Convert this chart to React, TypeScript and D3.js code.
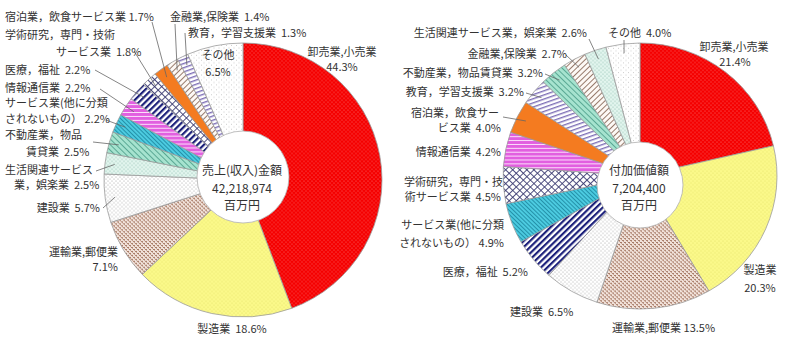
import React from "react";
import * as d3 from "d3";

const leftCategories = [
  "卸売業,小売業", "製造業", "運輸業,郵便業", "建設業", "生活関連サービス業，娯楽業",
  "不動産業，物品賃貸業", "サービス業(他に分類されないもの）", "情報通信業", "医療，福祉",
  "学術研究，専門・技術サービス業", "宿泊業，飲食サービス業", "金融業,保険業", "教育，学習支援業", "その他",
];
const leftValues = [44.3, 18.6, 7.1, 5.7, 2.5, 2.5, 2.2, 2.2, 2.2, 1.8, 1.7, 1.4, 1.3, 6.5];

const rightCategories = [
  "卸売業,小売業", "製造業", "運輸業,郵便業", "建設業", "医療，福祉",
  "サービス業(他に分類されないもの）", "学術研究，専門・技術サービス業", "情報通信業",
  "宿泊業，飲食サービス業", "教育，学習支援業", "不動産業，物品賃貸業", "金融業,保険業",
  "生活関連サービス業，娯楽業", "その他",
];
const rightValues = [21.4, 20.3, 13.5, 6.5, 5.2, 4.9, 4.5, 4.2, 4.0, 3.2, 3.2, 2.7, 2.6, 4.0];

const leftCenterText = ["売上(収入)金額", "42,218,974", "百万円"];
const rightCenterText = ["付加価値額", "7,204,400", "百万円"];

// fill pattern id per category
const fillOf: Record<string, string> = {
  "卸売業,小売業": "url(#pRed)",
  "製造業": "url(#pYellow)",
  "運輸業,郵便業": "url(#pBrown)",
  "建設業": "url(#pSparse)",
  "生活関連サービス業，娯楽業": "url(#pMint)",
  "不動産業，物品賃貸業": "url(#pTeal)",
  "サービス業(他に分類されないもの）": "url(#pCyan)",
  "情報通信業": "url(#pMagenta)",
  "医療，福祉": "url(#pNavy)",
  "学術研究，専門・技術サービス業": "url(#pGrid)",
  "宿泊業，飲食サービス業": "#f47b20",
  "金融業,保険業": "url(#pHatch)",
  "教育，学習支援業": "url(#pLav)",
  "その他": "url(#pSparse2)",
};

type Line = { t: string; x: number; y: number; a: "start" | "middle" | "end" };
type Lab = { lines: Line[]; lead?: [number, number] };

const leftLabels: Record<string, Lab> = {
  "卸売業,小売業": { lines: [{ t: "卸売業,小売業", x: 342, y: 56, a: "middle" }, { t: "{v}", x: 342, y: 71, a: "middle" }] },
  "製造業": { lines: [{ t: "製造業  {v}", x: 232, y: 333, a: "middle" }] },
  "運輸業,郵便業": { lines: [{ t: "運輸業,郵便業", x: 118, y: 256, a: "end" }, { t: "{v}", x: 118, y: 271, a: "end" }] },
  "建設業": { lines: [{ t: "建設業  {v}", x: 100, y: 212, a: "end" }], lead: [103, 208] },
  "生活関連サービス業，娯楽業": { lines: [{ t: "生活関連サービス", x: 5, y: 174, a: "start" }, { t: "業，娯楽業  {v}", x: 14, y: 189, a: "start" }], lead: [96, 171] },
  "不動産業，物品賃貸業": { lines: [{ t: "不動産業，物品", x: 5, y: 139, a: "start" }, { t: "賃貸業  {v}", x: 26, y: 156, a: "start" }], lead: [93, 142] },
  "サービス業(他に分類されないもの）": { lines: [{ t: "サービス業(他に分類", x: 5, y: 107, a: "start" }, { t: "されないもの） {v}", x: 5, y: 123, a: "start" }], lead: [106, 120] },
  "情報通信業": { lines: [{ t: "情報通信業  {v}", x: 5, y: 92, a: "start" }], lead: [100, 89] },
  "医療，福祉": { lines: [{ t: "医療，福祉  {v}", x: 5, y: 74, a: "start" }], lead: [95, 70] },
  "学術研究，専門・技術サービス業": { lines: [{ t: "学術研究，専門・技術", x: 5, y: 39, a: "start" }, { t: "サービス業  {v}", x: 56, y: 56, a: "start" }], lead: [134, 51] },
  "宿泊業，飲食サービス業": { lines: [{ t: "宿泊業，飲食サービス業 {v}", x: 5, y: 21, a: "start" }], lead: [152, 22] },
  "金融業,保険業": { lines: [{ t: "金融業,保険業  {v}", x: 170, y: 21, a: "start" }], lead: [175, 24] },
  "教育，学習支援業": { lines: [{ t: "教育，学習支援業  {v}", x: 188, y: 37, a: "start" }], lead: [185, 33] },
  "その他": { lines: [{ t: "その他", x: 218, y: 59, a: "middle" }, { t: "{v}", x: 218, y: 76, a: "middle" }] },
};

const rightLabels: Record<string, Lab> = {
  "卸売業,小売業": { lines: [{ t: "卸売業,小売業", x: 734, y: 51, a: "middle" }, { t: "{v}", x: 735, y: 66, a: "middle" }] },
  "製造業": { lines: [{ t: "製造業", x: 760, y: 274, a: "middle" }, { t: "{v}", x: 760, y: 292, a: "middle" }] },
  "運輸業,郵便業": { lines: [{ t: "運輸業,郵便業 {v}", x: 612, y: 332, a: "start" }] },
  "建設業": { lines: [{ t: "建設業  {v}", x: 510, y: 316, a: "start" }] },
  "医療，福祉": { lines: [{ t: "医療，福祉  {v}", x: 528, y: 276, a: "end" }] },
  "サービス業(他に分類されないもの）": { lines: [{ t: "サービス業(他に分類", x: 504, y: 229, a: "end" }, { t: "されないもの） {v}", x: 504, y: 247, a: "end" }] },
  "学術研究，専門・技術サービス業": { lines: [{ t: "学術研究，専門・技", x: 503, y: 186, a: "end" }, { t: "術サービス業  {v}", x: 501, y: 201, a: "end" }] },
  "情報通信業": { lines: [{ t: "情報通信業  {v}", x: 501, y: 156, a: "end" }] },
  "宿泊業，飲食サービス業": { lines: [{ t: "宿泊業，飲食サー", x: 499, y: 117, a: "end" }, { t: "ビス業  {v}", x: 501, y: 132, a: "end" }], lead: [503, 117] },
  "教育，学習支援業": { lines: [{ t: "教育，学習支援業  {v}", x: 524, y: 96, a: "end" }], lead: [526, 93] },
  "不動産業，物品賃貸業": { lines: [{ t: "不動産業，物品賃貸業  {v}", x: 543, y: 77, a: "end" }], lead: [545, 74] },
  "金融業,保険業": { lines: [{ t: "金融業,保険業  {v}", x: 567, y: 58, a: "end" }], lead: [566, 55] },
  "生活関連サービス業，娯楽業": { lines: [{ t: "生活関連サービス業，娯楽業  {v}", x: 587, y: 37, a: "end" }], lead: [589, 39] },
  "その他": { lines: [{ t: "その他  {v}", x: 608, y: 37, a: "start" }], lead: [624, 40] },
};

const FONT = "'Noto Sans CJK JP', 'Noto Sans', sans-serif";

type PieProps = {
  cats: string[]; vals: number[]; labels: Record<string, Lab>; center: string[];
  cx: number; cy: number; rx: number; ry: number;
  hx: number; hy: number; hr: number;
};

function Donut({ cats, vals, labels, center, cx, cy, rx, ry, hx, hy, hr }: PieProps) {
  const pie = d3.pie<number>().sort(null).value((d) => d)(vals);
  const arc = d3.arc<d3.PieArcDatum<number>>().innerRadius(0).outerRadius(rx);
  const sy = ry / rx;
  const fmt = d3.format(".1f");
  return (
    <g>
      <g transform={`translate(${cx},${cy}) scale(1,${sy})`}>
        {pie.map((p, i) => (
          <path key={i} d={arc(p) || ""} fill={fillOf[cats[i]]} stroke="#9a9a9a" strokeWidth={0.8} />
        ))}
      </g>
      <ellipse cx={hx} cy={hy} rx={hr} ry={hr} fill="#fff" stroke="#b0b0b0" strokeWidth={0.8} />
      {center.map((t, i) => (
        <text key={i} x={hx - 1} y={175 + i * 17.5} textAnchor="middle" fontSize={12} fill="#333" fontFamily={FONT}>{t}</text>
      ))}
      {pie.map((p, i) => {
        const lab = labels[cats[i]];
        if (!lab) return null;
        const v = fmt(vals[i]) + "%";
        const mid = (p.startAngle + p.endAngle) / 2;
        const ex = cx + Math.sin(mid) * rx * 0.93;
        const ey = cy - Math.cos(mid) * ry * 0.93;
        return (
          <g key={"l" + i}>
            {lab.lead && (
              <line x1={lab.lead[0]} y1={lab.lead[1]} x2={ex} y2={ey} stroke="#666" strokeWidth={0.8} />
            )}
            {lab.lines.map((ln, j) => (
              <text key={j} x={ln.x} y={ln.y} textAnchor={ln.a} fontSize={11} fill="#333"
                fontFamily={FONT} style={{ whiteSpace: "pre" }}>{ln.t.replace("{v}", v)}</text>
            ))}
          </g>
        );
      })}
    </g>
  );
}

function Patterns() {
  return (
    <defs>
      <pattern id="pRed" width={4} height={4} patternUnits="userSpaceOnUse">
        <rect width={4} height={4} fill="#f50000" />
        <circle cx={1} cy={1} r={0.6} fill="#ff7a7a" />
        <circle cx={3} cy={3} r={0.6} fill="#ff7a7a" />
      </pattern>
      <pattern id="pYellow" width={4} height={4} patternUnits="userSpaceOnUse">
        <rect width={4} height={4} fill="#fbf98a" />
        <circle cx={1} cy={1} r={0.6} fill="#e3df66" />
        <circle cx={3} cy={3} r={0.6} fill="#e3df66" />
      </pattern>
      <pattern id="pBrown" width={4} height={4} patternUnits="userSpaceOnUse">
        <rect width={4} height={4} fill="#f1e2da" />
        <rect x={0} y={0} width={2} height={1} fill="#a57a66" />
        <rect x={2} y={2} width={2} height={1} fill="#a57a66" />
        <rect x={1} y={1} width={1} height={1} fill="#c9a493" />
        <rect x={3} y={3} width={1} height={1} fill="#c9a493" />
      </pattern>
      <pattern id="pSparse" width={4} height={4} patternUnits="userSpaceOnUse">
        <rect width={4} height={4} fill="#fff" />
        <circle cx={1} cy={1} r={0.5} fill="#8a8a8a" />
        <circle cx={3} cy={3} r={0.5} fill="#8a8a8a" />
      </pattern>
      <pattern id="pSparse2" width={5} height={5} patternUnits="userSpaceOnUse">
        <rect width={5} height={5} fill="#fff" />
        <circle cx={1} cy={1} r={0.45} fill="#999" />
        <circle cx={3.5} cy={3.5} r={0.45} fill="#999" />
      </pattern>
      <pattern id="pMint" width={4} height={4} patternUnits="userSpaceOnUse">
        <rect width={4} height={4} fill="#e2f5ee" />
        <circle cx={1} cy={1} r={0.55} fill="#7fb3a3" />
        <circle cx={3} cy={3} r={0.55} fill="#7fb3a3" />
      </pattern>
      <pattern id="pTeal" width={4} height={4} patternUnits="userSpaceOnUse" patternTransform="rotate(45)">
        <rect width={4} height={4} fill="#a6e3cf" />
        <rect width={4} height={1} fill="#5aa894" />
      </pattern>
      <pattern id="pCyan" width={3} height={3} patternUnits="userSpaceOnUse" patternTransform="rotate(45)">
        <rect width={3} height={3} fill="#4ccbe0" />
        <rect width={3} height={0.9} fill="#1f8aa3" />
      </pattern>
      <pattern id="pMagenta" width={4} height={4} patternUnits="userSpaceOnUse">
        <rect width={4} height={4} fill="#e25fe0" />
        <rect y={3} width={4} height={1} fill="#fbe0fb" />
      </pattern>
      <pattern id="pNavy" width={4.5} height={4.5} patternUnits="userSpaceOnUse" patternTransform="rotate(-45)">
        <rect width={4.5} height={4.5} fill="#fff" />
        <rect width={4.5} height={2.2} fill="#1b1f7a" />
      </pattern>
      <pattern id="pGrid" width={5} height={5} patternUnits="userSpaceOnUse" patternTransform="rotate(45)">
        <rect width={5} height={5} fill="#fff" />
        <rect width={5} height={0.9} fill="#3a3a70" />
        <rect width={0.9} height={5} fill="#3a3a70" />
      </pattern>
      <pattern id="pHatch" width={4} height={4} patternUnits="userSpaceOnUse" patternTransform="rotate(-45)">
        <rect width={4} height={4} fill="#fdf9f5" />
        <rect width={4} height={0.9} fill="#8a6a5a" />
      </pattern>
      <pattern id="pLav" width={4} height={4} patternUnits="userSpaceOnUse" patternTransform="rotate(-20)">
        <rect width={4} height={4} fill="#fff" />
        <rect width={4} height={1.4} fill="#7c6db5" />
      </pattern>
    </defs>
  );
}

export default function App() {
  return (
    <svg width={800} height={346} style={{ position: "absolute", left: 0, top: 0, background: "#fff" }}>
      <Patterns />
      <rect width={800} height={346} fill="#fff" />
      <Donut cats={leftCategories} vals={leftValues} labels={leftLabels} center={leftCenterText}
        cx={243} cy={180} rx={139} ry={137} hx={243} hy={177} hr={46} />
      <Donut cats={rightCategories} vals={rightValues} labels={rightLabels} center={rightCenterText}
        cx={640} cy={176} rx={137} ry={133} hx={640} hy={185} hr={43} />
    </svg>
  );
}
